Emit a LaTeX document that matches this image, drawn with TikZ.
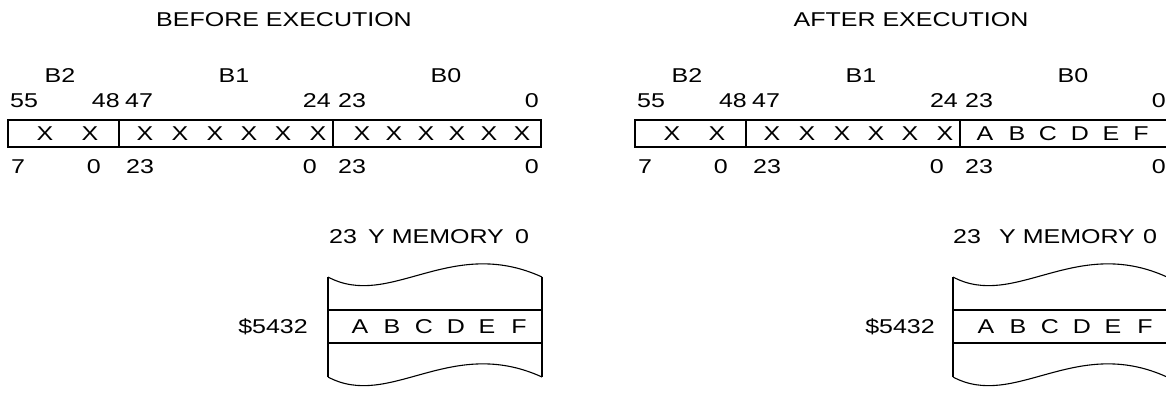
\documentclass[tikz,border=0pt]{standalone}
\usepackage{fontspec}
\setmainfont{Liberation Sans}[FakeStretch=1.25]
\begin{document}
\begin{tikzpicture}[x=1pt,y=-1pt,
  txt/.style={inner sep=0pt,font=\fontsize{20}{24}\selectfont},
  wire/.style={line width=1.1pt}]
\useasboundingbox (0,0) rectangle (1166,392);
\clip (0,0) rectangle (1166,392);
% before execution
\node[txt] (titleB) at (284,20) {BEFORE EXECUTION};
\node[txt] (bTwoB) at (60,76) {B2};
\node[txt] (bOneB) at (234,76) {B1};
\node[txt] (bZeroB) at (446,76) {B0};
\node[txt,anchor=west] (hiB55) at (10,101) {55};
\node[txt,anchor=east] (hiB48) at (120,101) {48};
\node[txt,anchor=west] (hiB47) at (125,101) {47};
\node[txt,anchor=east] (hiB24) at (331,101) {24};
\node[txt,anchor=west] (hiB23) at (338,101) {23};
\node[txt,anchor=east] (hiB0) at (539,101) {0};
\draw[wire] (8,120) rectangle (541,147);
\draw[wire] (119,120) -- (119,147) (333,120) -- (333,147);
\node[txt,anchor=west] (loB7) at (11,167) {7};
\node[txt,anchor=east] (loB0a) at (101,167) {0};
\node[txt,anchor=west] (loB23a) at (126,167) {23};
\node[txt,anchor=east] (loB0b) at (317,167) {0};
\node[txt,anchor=west] (loB23b) at (338,167) {23};
\node[txt,anchor=east] (loB0c) at (539,167) {0};
\foreach \xx [count=\i] in {45,90,145,180,215,249,283,318,362,394,426,457,489,522}
  \node[txt] (xB\i) at (\xx,134) {X};
% y memory, before
\node[txt,anchor=west] (memB23) at (329,237) {23};
\node[txt,anchor=west] (memBY) at (368,237) {Y MEMORY};
\node[txt,anchor=west] (memB0) at (515,237) {0};
\draw[wire] (328,277) .. controls (390,310) and (450,235) .. (542,277);
\draw[wire] (328,377) .. controls (390,410) and (450,335) .. (542,377);
\draw[wire] (328,277) -- (328,377) (542,277) -- (542,377);
\draw[wire] (328,310) -- (542,310) (328,343) -- (542,343);
\node[txt,anchor=east] (addrB) at (308,327) {\$5432};
\foreach \xx/\c in {360/A,392/B,424/C,456/D,487/E,519/F}
  \node[txt] (memB\c) at (\xx,327) {\c};
% after execution
\begin{scope}[xshift=627pt]
\node[txt] (titleA) at (284,20) {AFTER EXECUTION};
\node[txt] (bTwoA) at (60,76) {B2};
\node[txt] (bOneA) at (234,76) {B1};
\node[txt] (bZeroA) at (446,76) {B0};
\node[txt,anchor=west] (hiA55) at (10,101) {55};
\node[txt,anchor=east] (hiA48) at (120,101) {48};
\node[txt,anchor=west] (hiA47) at (125,101) {47};
\node[txt,anchor=east] (hiA24) at (331,101) {24};
\node[txt,anchor=west] (hiA23) at (338,101) {23};
\node[txt,anchor=east] (hiA0) at (539,101) {0};
\draw[wire] (8,120) rectangle (541,147);
\draw[wire] (119,120) -- (119,147) (333,120) -- (333,147);
\node[txt,anchor=west] (loA7) at (11,167) {7};
\node[txt,anchor=east] (loA0a) at (101,167) {0};
\node[txt,anchor=west] (loA23a) at (126,167) {23};
\node[txt,anchor=east] (loA0b) at (317,167) {0};
\node[txt,anchor=west] (loA23b) at (338,167) {23};
\node[txt,anchor=east] (loA0c) at (539,167) {0};
\foreach \xx [count=\i] in {45,90,145,180,215,249,283,318}
  \node[txt] (xA\i) at (\xx,134) {X};
\foreach \xx/\c in {358/A,390/B,421/C,453/D,484/E,514/F}
  \node[txt] (regA\c) at (\xx,134) {\c};
% y memory, after
\node[txt,anchor=west] (memA23) at (326,237) {23};
\node[txt,anchor=west] (memAY) at (372,237) {Y MEMORY};
\node[txt,anchor=west] (memA0) at (516,237) {0};
\draw[wire] (326,277) .. controls (388,310) and (448,235) .. (540,277);
\draw[wire] (326,377) .. controls (388,410) and (448,335) .. (540,377);
\draw[wire] (326,277) -- (326,377) (540,277) -- (540,377);
\draw[wire] (326,310) -- (540,310) (326,343) -- (540,343);
\node[txt,anchor=east] (addrA) at (308,327) {\$5432};
\foreach \xx/\c in {359/A,391/B,423/C,455/D,486/E,518/F}
  \node[txt] (memA\c) at (\xx,327) {\c};
\end{scope}
\end{tikzpicture}
\end{document}
